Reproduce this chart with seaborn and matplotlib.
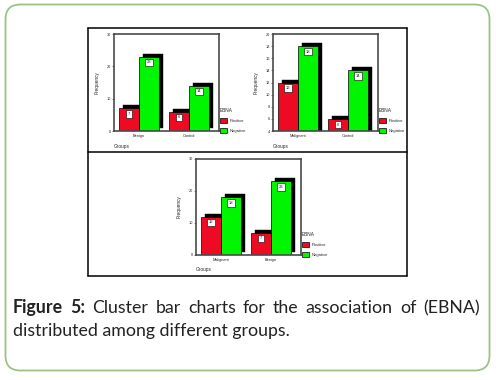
import matplotlib
matplotlib.use('Agg')
import matplotlib.pyplot as plt
import matplotlib.transforms as mtransforms
from matplotlib.patches import Patch, FancyBboxPatch
from matplotlib.lines import Line2D
import seaborn as sns
import pandas as pd

# data
groups_1 = ['Benign', 'Control']
positive_1 = [7, 6]
negative_1 = [23, 14]

groups_2 = ['Malignant', 'Control']
positive_2 = [12, 6]
negative_2 = [18, 14]

groups_3 = ['Malignant', 'Benign']
positive_3 = [12, 7]
negative_3 = [18, 23]

ebna = ['Positive', 'Negative']
yticks_1 = [0, 10, 20, 30]
yticks_2 = [4, 6, 8, 10, 12, 14, 16, 18, 20]
yticks_3 = [0, 10, 20, 30]

caption_bold = 'Figure 5:'
caption_line1 = 'Cluster bar charts for the association of (EBNA)'
caption_line2 = 'distributed among different groups.'

RED = '#ee0a23'
GREEN = '#00f500'

sns.set_style('white')
plt.rcParams['font.family'] = ['Liberation Sans', 'DejaVu Sans']

W, H = 496, 380
fig = plt.figure(figsize=(W / 100, H / 100), dpi=100)


def px(x, y):
    return x / W, 1 - y / H


def make_df(groups, pos, neg):
    return pd.DataFrame({
        'Groups': groups * 2,
        'EBNA': [ebna[0]] * len(groups) + [ebna[1]] * len(groups),
        'Frequency': list(pos) + list(neg),
    })


def panel(box, groups, pos, neg, yticks):
    x0, y0, x1, y1 = box
    ax = fig.add_axes([x0 / W, 1 - y1 / H, (x1 - x0) / W, (y1 - y0) / H])
    df = make_df(groups, pos, neg)
    # black drop shadow, shifted right and up
    sns.barplot(data=df, x='Groups', y='Frequency', hue='EBNA', hue_order=ebna,
                palette=['black', 'black'], saturation=1, legend=False, ax=ax,
                edgecolor='black', linewidth=0.3)
    shift = mtransforms.ScaledTranslation(4.3 / 100, 3 / 100, fig.dpi_scale_trans)
    for p in list(ax.patches):
        p.set_transform(ax.transData + shift)
    n_shadow = len(ax.containers)
    sns.barplot(data=df, x='Groups', y='Frequency', hue='EBNA', hue_order=ebna,
                palette=[RED, GREEN], saturation=1, legend=False, ax=ax,
                edgecolor='black', linewidth=0.5)
    for cont in ax.containers[n_shadow:]:
        ax.bar_label(cont, padding=-5.5, fontsize=3, fmt='%d',
                     bbox=dict(boxstyle='square,pad=0.4', fc='white', ec='black', lw=0.4))
    ax.set_xlim(-0.5, 1.6)
    ax.set_ylim(yticks[0], yticks[-1])
    ax.set_yticks(yticks)
    ax.tick_params(axis='both', labelsize=2.8, length=1.2, width=0.4, pad=1, left=True, bottom=False)
    ax.set_xlabel('')
    ax.set_ylabel('Frequency', fontsize=3.4, labelpad=5)
    ax.text(0, -0.13, 'Groups', transform=ax.transAxes, fontsize=3.4, va='top', ha='left')
    for s in ax.spines.values():
        s.set_visible(True)
        s.set_color('#4a4a4a')
        s.set_linewidth(1.2)
    handles = [Patch(fc=RED, ec='black', lw=0.5), Patch(fc=GREEN, ec='black', lw=0.5)]
    ax.legend(handles, ebna, title='EBNA', loc='lower left', bbox_to_anchor=(1.0, -0.03),
              frameon=False, fontsize=3, title_fontsize=3.4, alignment='left',
              handlelength=1.8, handleheight=1.4, labelspacing=1.3, borderaxespad=0,
              borderpad=0.2, handletextpad=0.5)
    return ax


panel((114, 34, 219, 131), groups_1, positive_1, negative_1, yticks_1)
panel((273, 34, 378, 131), groups_2, positive_2, negative_2, yticks_2)
panel((196, 159, 301, 255), groups_3, positive_3, negative_3, yticks_3)

# frame around the figure image and the divider
for (xa, ya, xb, yb) in [(87.5, 28, 407, 28), (87.5, 276, 407, 276), (87.5, 28, 87.5, 276),
                         (407, 28, 407, 276), (87.5, 152, 407, 152)]:
    a, b = px(xa, ya), px(xb, yb)
    fig.add_artist(Line2D([a[0], b[0]], [a[1], b[1]], color='black', lw=1.1))

# rounded green outer border
bx0, by0 = px(5.5, 370.5)
bx1, by1 = px(489.5, 4.5)
fig.add_artist(FancyBboxPatch((bx0, by0), bx1 - bx0, by1 - by0,
                              boxstyle='round,pad=0,rounding_size=0.03',
                              transform=fig.transFigure, fc='none', ec='#9fc185', lw=1.3,
                              mutation_aspect=W / H))

# caption, first line justified between x=13 and x=480
cap_font = ['Lato', 'DejaVu Sans']
renderer = fig.canvas.get_renderer()
probe = fig.text(0, 0, caption_line2, fontsize=12, family=cap_font)
w2 = probe.get_window_extent(renderer).width
probe.remove()
fs = 12 * 276 / w2

words = [(caption_bold.split()[0], 'bold'), (caption_bold.split()[1], 'bold')] + \
        [(w, 'normal') for w in caption_line1.split()]
arts = []
for w, wt in words:
    t = fig.text(0, 0, w, fontsize=fs, family=cap_font, weight=wt, color='#222222')
    arts.append((t, t.get_window_extent(renderer).width))
total = sum(wd for _, wd in arts)
gap = (480 - 13 - total) / (len(arts) - 1)
x = 13
for t, wd in arts:
    t.set_position(px(x, 313))
    t.set_va('baseline')
    x += wd + gap
fig.text(*px(13, 336), caption_line2, fontsize=fs, family=cap_font, va='baseline', color='#222222')

fig.savefig('out.png', dpi=100)
